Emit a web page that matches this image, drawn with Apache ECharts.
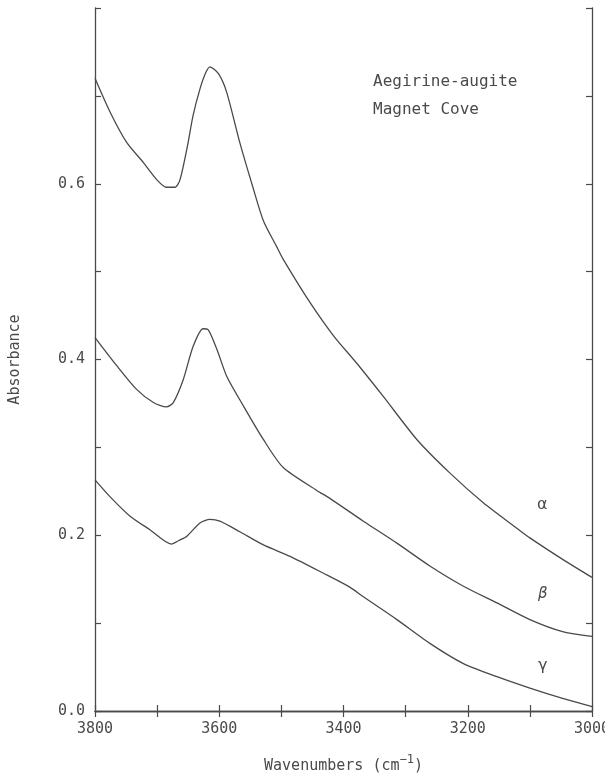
<!DOCTYPE html>
<html style="height: 100%">
   <head>
       <meta charset="utf-8">
   </head>
   <body style="height: 100%; margin: 0; background: #fff">
       <div id="container" style="width: 605px; height: 775px"></div>
       <script src="https://cdn.jsdelivr.net/npm/echarts@6/dist/echarts.min.js"></script>
       <script type="text/javascript">
// spectra: [wavenumber, absorbance]
var alpha = [
    [3800,0.720],[3776,0.682],[3749,0.647],[3722,0.624],[3701,0.605],[3685,0.596],
    [3671,0.596],[3663,0.605],[3652,0.640],[3642,0.678],[3631,0.708],[3622,0.726],
    [3615,0.733],[3601,0.725],[3588,0.704],[3567,0.647],[3545,0.594],[3529,0.558],
    [3508,0.529],[3497,0.514],[3454,0.465],[3416,0.427],[3379,0.396],[3336,0.358],
    [3282,0.309],[3229,0.271],[3175,0.237],[3121,0.208],[3100,0.197],[3046,0.172],
    [3000,0.152]
];
var beta = [
    [3800,0.425],[3765,0.393],[3733,0.366],[3706,0.351],[3685,0.346],[3674,0.351],
    [3658,0.377],[3642,0.415],[3626,0.435],[3618,0.434],[3604,0.412],[3588,0.381],
    [3561,0.347],[3529,0.309],[3497,0.277],[3443,0.251],[3422,0.242],[3368,0.216],
    [3314,0.191],[3261,0.165],[3207,0.142],[3153,0.123],[3100,0.104],[3046,0.090],
    [3000,0.085]
];
var gamma = [
    [3800,0.263],[3776,0.244],[3744,0.222],[3711,0.206],[3677,0.190],[3665,0.194],
    [3652,0.199],[3631,0.214],[3615,0.218],[3599,0.216],[3567,0.204],[3529,0.189],
    [3486,0.176],[3433,0.157],[3390,0.141],[3368,0.130],[3314,0.104],[3261,0.077],
    [3207,0.054],[3153,0.039],[3100,0.026],[3046,0.014],[3000,0.005]
];
var curveNames = ['α', 'β', 'γ'];

var ink = '#4a4a4a';
var mono = '"DejaVu Sans Mono", monospace';

var dom = document.getElementById("container");
var myChart = echarts.init(dom);

function frameAxis(extra) {
    var base = {
        axisLine: { show: true, lineStyle: { color: ink, width: 1.3 } },
        axisTick: { show: true, inside: true, length: 6, lineStyle: { color: ink, width: 1.2 } },
        splitLine: { show: false }
    };
    return Object.assign(base, extra);
}

var option = {
    backgroundColor: '#fff',
    animation: false,
    grid: { left: 95, right: 13, top: 8, bottom: 64, containLabel: false, outerBoundsMode: 'none' },
    xAxis: [
        frameAxis({
            type: 'value', min: 3000, max: 3800, interval: 100, inverse: true,
            position: 'bottom',
            name: '{a|Wavenumbers (cm}{s|−1}{a|)}',
            nameLocation: 'middle', nameGap: 43,
            nameTextStyle: {
                rich: {
                    a: { fontFamily: mono, fontSize: 15, color: ink },
                    s: { fontFamily: mono, fontSize: 12, color: ink, padding: [0, 0, 12, 0] }
                }
            },
            axisLabel: {
                fontFamily: mono, fontSize: 15, color: ink, margin: 11,
                formatter: function (v) { return v % 200 === 0 ? String(v) : ''; }
            }
        }),
        frameAxis({
            type: 'value', min: 3000, max: 3800, interval: 100, inverse: true,
            position: 'top', axisLabel: { show: false }
        })
    ],
    yAxis: [
        frameAxis({
            type: 'value', min: 0, max: 0.8, interval: 0.1,
            name: 'Absorbance', nameLocation: 'middle', nameGap: 72,
            nameTextStyle: { fontFamily: mono, fontSize: 15, color: ink },
            axisLabel: {
                fontFamily: mono, fontSize: 15, color: ink, margin: 10,
                formatter: function (v) {
                    var k = Math.round(v * 10);
                    return (k % 2 === 0 && k < 8) ? v.toFixed(1) : '';
                }
            }
        }),
        frameAxis({
            type: 'value', min: 0, max: 0.8, interval: 0.1,
            position: 'right', axisLabel: { show: false }
        })
    ],
    graphic: [
        { type: 'text', left: 373, top: 74, style: { text: 'Aegirine-augite', font: '16px ' + mono, fill: ink } },
        { type: 'text', left: 373, top: 102, style: { text: 'Magnet Cove', font: '16px ' + mono, fill: ink } },
        { type: 'text', left: 537, top: 497, style: { text: curveNames[0], font: '16px "DejaVu Sans"', fill: ink } },
        { type: 'text', left: 538, top: 587, style: { text: curveNames[1], font: 'italic 15px "DejaVu Sans"', fill: ink } },
        { type: 'text', left: 538, top: 658, style: { text: curveNames[2], font: '16px "DejaVu Sans"', fill: ink } }
    ],
    series: [alpha, beta, gamma].map(function (d, i) {
        return {
            name: curveNames[i],
            type: 'line',
            data: d,
            showSymbol: false,
            smooth: 0.25,
            lineStyle: { color: ink, width: 1.3 }
        };
    })
};

myChart.setOption(option);
       </script>
   </body>
</html>
